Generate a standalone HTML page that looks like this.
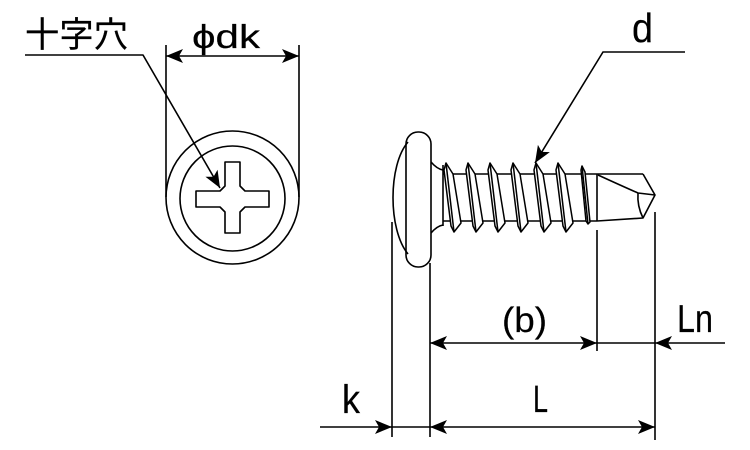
<!DOCTYPE html>
<html><head><meta charset="utf-8"><style>
html,body{margin:0;padding:0;background:#fff;}
svg{display:block;}
text{font-family:"Liberation Sans","Noto Sans CJK JP",sans-serif;fill:#000;stroke:#000;stroke-width:0.2;}
</style></head><body>
<svg width="750" height="450" viewBox="0 0 750 450" xmlns="http://www.w3.org/2000/svg">
<g fill="none" stroke="#000" stroke-width="1.6" stroke-linejoin="round">
<circle cx="232.5" cy="197.5" r="66.5"/>
<circle cx="232.5" cy="198.5" r="52.5"/>
<polygon points="225,162 240,162 240,186 245,191 269,191 269,207 245,207 240,212 240,233 225,233 225,212 220,207 196,207 196,191 220,191 225,186"/>
<line x1="166" y1="45" x2="166" y2="197"/>
<line x1="299" y1="45" x2="299" y2="197"/>
<line x1="166" y1="56" x2="299" y2="56"/>
<polyline points="25,55 143,55 220,188"/>

<rect x="406" y="132" width="25" height="135" rx="12" ry="12"/>
<path d="M408,142 C388,165 388,230 408,254"/>
<path d="M431,162 Q437,169 443,170"/>
<path d="M431,233 Q437,226 443,225"/>
<line x1="443" y1="165" x2="443" y2="226"/>
<line x1="443" y1="174" x2="643" y2="174"/>
<line x1="443" y1="221" x2="597" y2="221"/>
<line x1="597" y1="174" x2="597" y2="221"/>
<polyline points="643,174 655,195 643,218 597,221"/>
<path d="M598,175 Q622,186 638,193 L655,195"/>
<path d="M638,193 Q637,206 643,218"/>
</g>

<g fill="#fff" stroke="#000" stroke-width="1.5" stroke-linejoin="round">
<g transform="translate(446,0)"><polygon points="-2,170 0,163 7,174 15,223 8,232 5,226"/><line x1="0" y1="163" x2="8" y2="232"/></g>
<g transform="translate(468,0)"><polygon points="-2,170 0,163 7,174 15,223 8,232 5,226"/><line x1="0" y1="163" x2="8" y2="232"/></g>
<g transform="translate(490,0)"><polygon points="-2,170 0,163 7,174 15,223 8,232 5,226"/><line x1="0" y1="163" x2="8" y2="232"/></g>
<g transform="translate(513,0)"><polygon points="-2,170 0,163 7,174 15,223 8,232 5,226"/><line x1="0" y1="163" x2="8" y2="232"/></g>
<g transform="translate(536,0)"><polygon points="-2,170 0,163 7,174 15,223 8,232 5,226"/><line x1="0" y1="163" x2="8" y2="232"/></g>
<g transform="translate(558,0)"><polygon points="-2,170 0,163 7,174 15,223 8,232 5,226"/><line x1="0" y1="163" x2="8" y2="232"/></g>
<g transform="translate(582,0)"><polygon points="-1,170 0,166 3,172 8,222 6,224 4,221"/><line x1="0" y1="166" x2="6" y2="224"/></g>
</g>

<g fill="none" stroke="#000" stroke-width="1.6">
<polyline points="685,52 603,52 535,163"/>
<line x1="392" y1="222" x2="392" y2="437"/>
<line x1="430" y1="263" x2="430" y2="437"/>
<line x1="597" y1="230" x2="597" y2="351"/>
<line x1="655" y1="212" x2="655" y2="440"/>
<line x1="430" y1="343" x2="725" y2="343"/>
<line x1="320" y1="427" x2="655" y2="427"/>
</g>

<g fill="#000" stroke="none">
<polygon points="0,0 -17,-7 -13,0 -17,7" transform="translate(166,56) rotate(180)"/>
<polygon points="0,0 -17,-7 -13,0 -17,7" transform="translate(299,56)"/>
<polygon points="0,0 -17,-7 -13,0 -17,7" transform="translate(220,188) rotate(60)"/>
<polygon points="0,0 -17,-7 -13,0 -17,7" transform="translate(535,163) rotate(121.5)"/>
<polygon points="0,0 -17,-7 -13,0 -17,7" transform="translate(430,343) rotate(180)"/>
<polygon points="0,0 -17,-7 -13,0 -17,7" transform="translate(597,343)"/>
<polygon points="0,0 -17,-7 -13,0 -17,7" transform="translate(655,343) rotate(180)"/>
<polygon points="0,0 -17,-7 -13,0 -17,7" transform="translate(430,427) rotate(180)"/>
<polygon points="0,0 -17,-7 -13,0 -17,7" transform="translate(655,427)"/>
<polygon points="0,0 -17,-7 -13,0 -17,7" transform="translate(392,427)"/>
</g>

<text x="25" y="47" font-size="35" textLength="103" lengthAdjust="spacingAndGlyphs">十字穴</text>
<text x="192" y="48" font-size="33" textLength="68" lengthAdjust="spacingAndGlyphs">ϕdk</text>
<text x="632" y="42" font-size="41" textLength="21" lengthAdjust="spacingAndGlyphs">d</text>
<text x="502" y="332" font-size="35" textLength="45" lengthAdjust="spacingAndGlyphs">(b)</text>
<text x="677" y="332" font-size="39" textLength="36" lengthAdjust="spacingAndGlyphs">Ln</text>
<text x="533" y="412" font-size="38" textLength="15" lengthAdjust="spacingAndGlyphs">L</text>
<text x="342" y="413" font-size="40" textLength="18" lengthAdjust="spacingAndGlyphs">k</text>
</svg>
</body></html>
